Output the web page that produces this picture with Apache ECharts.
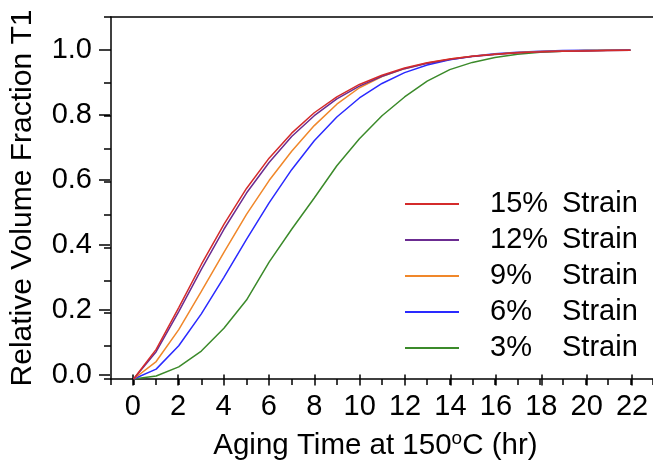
<!DOCTYPE html>
<html><head><meta charset="utf-8">
<script src="https://cdn.jsdelivr.net/npm/echarts@6/dist/echarts.min.js"></script>
<style>html,body{margin:0;padding:0;background:#fff}#c{width:653px;height:466px}</style>
</head><body><div id="c"></div>
<script>
const hours = [0,1,2,3,4,5,6,7,8,9,10,11,12,13,14,15,16,17,18,19,20,21,22];
const strain15 = [0,0.090,0.217,0.348,0.470,0.579,0.671,0.747,0.809,0.857,0.895,0.923,0.945,0.961,0.972,0.981,0.987,0.991,0.994,0.996,0.997,0.998,0.999];
const strain12 = [0,0.083,0.205,0.333,0.455,0.565,0.658,0.737,0.800,0.851,0.890,0.920,0.943,0.959,0.971,0.980,0.986,0.991,0.994,0.996,0.997,0.998,0.999];
const strain9  = [0,0.053,0.150,0.266,0.385,0.500,0.603,0.692,0.770,0.835,0.885,0.919,0.943,0.960,0.972,0.981,0.987,0.992,0.995,0.997,0.998,0.999,0.999];
const strain6  = [0,0.030,0.101,0.198,0.309,0.424,0.535,0.636,0.724,0.796,0.854,0.898,0.931,0.954,0.970,0.981,0.988,0.993,0.996,0.998,0.999,0.999,1.000];
const strain3  = [0,0.009,0.037,0.085,0.154,0.240,0.355,0.455,0.550,0.648,0.730,0.800,0.857,0.905,0.940,0.962,0.977,0.987,0.993,0.996,0.998,0.999,1.000];
const seriesNames = ['15% Strain','12% Strain','9% Strain','6% Strain','3% Strain'];
const xTickLabels = ['0','2','4','6','8','10','12','14','16','18','20','22'];
const yTickLabels = ['0.0','0.2','0.4','0.6','0.8','1.0'];

const colors = {'15% Strain':'#d42b2b','12% Strain':'#6b2c91','9% Strain':'#f0872a','6% Strain':'#2a2aff','3% Strain':'#3b8a2a'};
const values = {'15% Strain':strain15,'12% Strain':strain12,'9% Strain':strain9,'6% Strain':strain6,'3% Strain':strain3};

const PX = 22.7;         // px per hour
const X0 = 110;          // y-axis position (x = -1)
const YB = 379;          // y = 0 pixel
const PY = 329.1;        // px per unit fraction
const axisStyle = {color:'#000', width:1.5};
const font = 'Liberation Sans, Arial, sans-serif';

const chart = echarts.init(document.getElementById('c'), null, {renderer:'canvas'});
const drawOrder = ['3% Strain','6% Strain','9% Strain','12% Strain','15% Strain'];
chart.setOption({
  animation:false,
  backgroundColor:'#fff',
  grid:[
    {left:X0, top:YB-1.1*PY, width:24*PX, height:1.1*PY},
    {left:X0+PX, top:YB-PY, width:22*PX, height:PY}
  ],
  xAxis:[
    {gridIndex:0, type:'value', min:-1, max:23, interval:1,
     axisLine:{show:true, onZero:false, lineStyle:axisStyle},
     axisTick:{show:true, length:6, lineStyle:axisStyle},
     axisLabel:{show:false}, splitLine:{show:false}},
    {gridIndex:0, type:'value', position:'top', min:-1, max:23,
     axisLine:{show:true, onZero:false, lineStyle:axisStyle},
     axisTick:{show:false}, axisLabel:{show:false}, splitLine:{show:false}},
    {gridIndex:1, type:'value', min:0, max:22, interval:2,
     axisLine:{show:false, onZero:false},
     axisTick:{show:true, length:11, lineStyle:axisStyle},
     axisLabel:{show:true, fontSize:29, color:'#000', fontFamily:font, margin:18,
       formatter:(v)=>xTickLabels[Math.round(v/2)] ?? ''},
     splitLine:{show:false},
     name:'{n|Aging Time at 150}{s|o}{n|C (hr)}', nameLocation:'middle', nameGap:55,
     nameTextStyle:{color:'#000', fontFamily:font, padding:[0,14,0,0],
       rich:{n:{fontSize:29.5, fontFamily:font, color:'#000'},
             s:{fontSize:19, fontFamily:font, color:'#000', padding:[0,0,14,0]}}}}
  ],
  yAxis:[
    {gridIndex:0, type:'value', min:0, max:1.1, interval:0.1,
     axisLine:{show:true, onZero:false, lineStyle:axisStyle},
     axisTick:{show:true, length:7, lineStyle:axisStyle},
     axisLabel:{show:false}, splitLine:{show:false},
     name:'Relative Volume Fraction T1', nameLocation:'middle', nameGap:73,
     nameTextStyle:{fontSize:30, color:'#000', fontFamily:font}},
    {gridIndex:1, type:'value', min:0, max:1, interval:0.2, offset:PX,
     axisLine:{show:false, onZero:false},
     axisTick:{show:true, length:11, lineStyle:axisStyle},
     axisLabel:{show:true, fontSize:29, color:'#000', fontFamily:font, margin:18,
       formatter:(v)=>yTickLabels[Math.round(v/0.2)] ?? ''},
     splitLine:{show:false}}
  ],
  legend:{
    orient:'vertical', left:400, top:184, itemWidth:54, itemHeight:2, icon:'rect',
    itemGap:6, data:seriesNames,
    formatter:(name)=>{const p=name.split(' '); return '{a|'+p[0]+'}{b|'+p[1]+'}';},
    textStyle:{fontSize:29, lineHeight:30, color:'#000', fontFamily:font, padding:[0,0,0,26],
      rich:{a:{width:72, fontSize:29, fontFamily:font, color:'#000'},
            b:{fontSize:29, fontFamily:font, color:'#000'}}}
  },
  series: drawOrder.map(n=>({
    name:n, type:'line', xAxisIndex:0, yAxisIndex:0, showSymbol:false, symbol:'none',
    lineStyle:{width:1.5, color:colors[n]}, itemStyle:{color:colors[n]},
    data: hours.map((h,i)=>[h, values[n][i]])
  }))
});
</script></body></html>
